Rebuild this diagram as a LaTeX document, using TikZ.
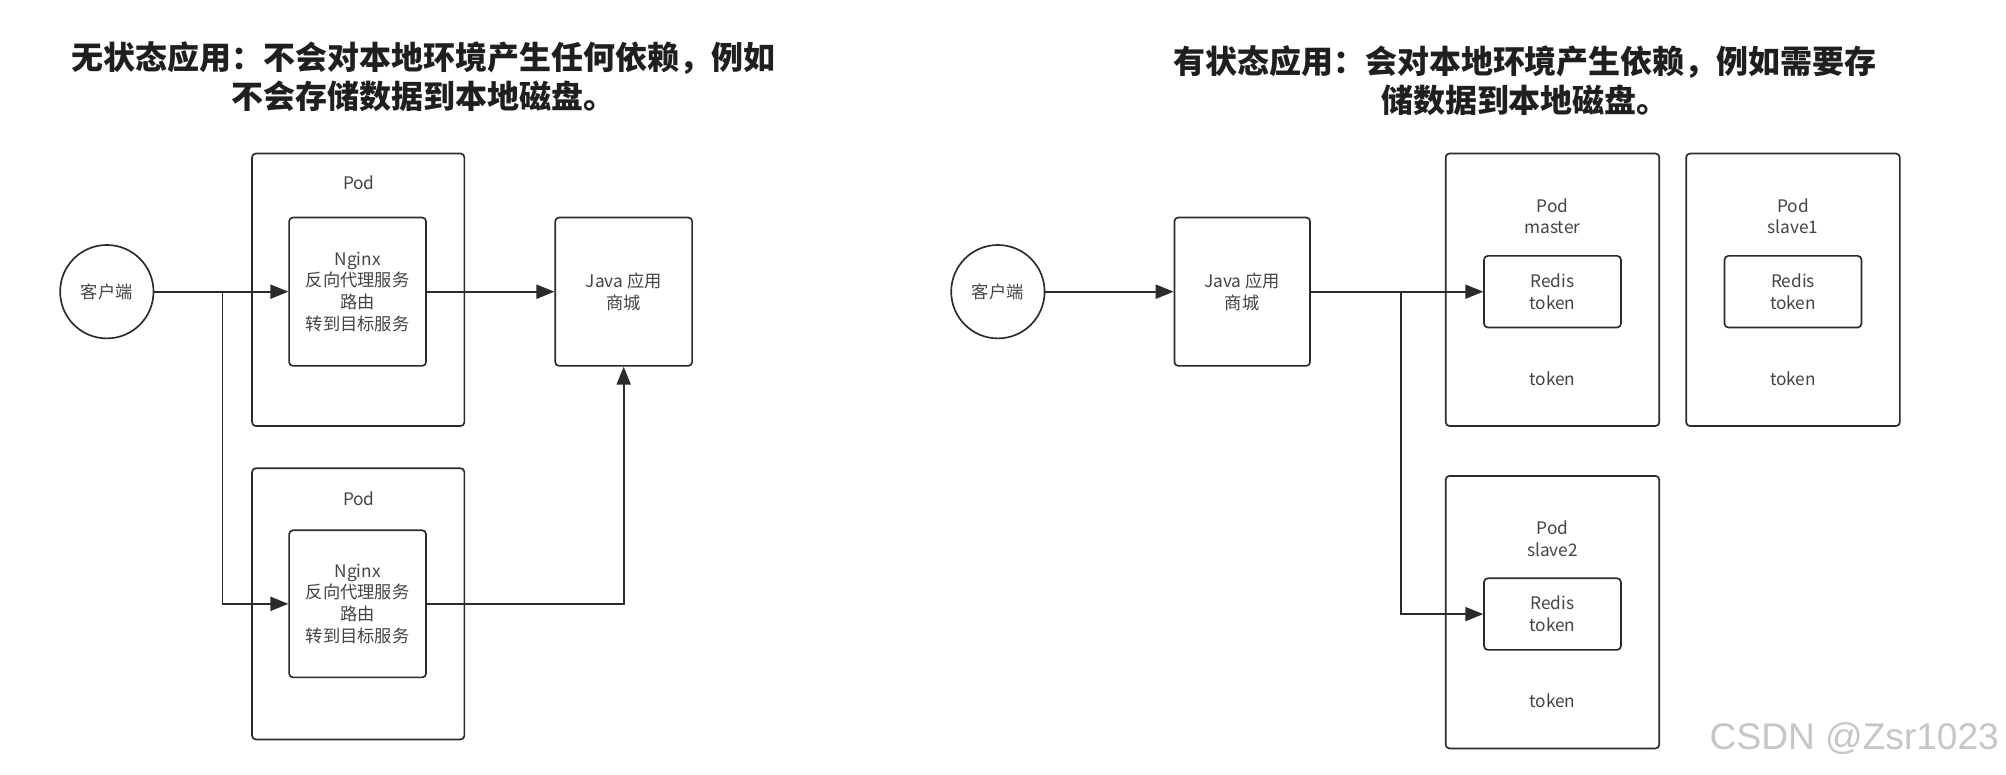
\documentclass[tikz,border=0pt]{standalone}
\usepackage{fontspec}
\setmainfont{Noto Sans CJK SC}
\newfontfamily\wmfont{Liberation Sans}
\usetikzlibrary{arrows.meta}
\definecolor{ink}{HTML}{2B2B2B}
\definecolor{txt}{HTML}{444444}
\tikzset{
  box/.style={draw=ink, line width=1.3pt, rounded corners=3pt, inner sep=0pt, fill=white},
  lbl/.style={font=\fontsize{13.5}{17}\selectfont, text=txt, align=center},
  arr/.style={draw=ink, line width=1.3pt, -{Triangle[length=14pt,width=11pt]}},
  ttl/.style={font=\fontsize{25}{30}\selectfont\bfseries, text=black!88, align=center},
  client/.style={draw=ink, line width=1.3pt, circle, minimum size=73pt, inner sep=0pt, fill=white}
}
\begin{document}
\begin{tikzpicture}[x=1pt,y=-1pt]
\useasboundingbox[fill=white] (0,0) rectangle (1568,605);

% ---------- left: stateless ----------
\node[ttl] (t1) at (331,60) {无状态应用：不会对本地环境产生任何依赖，例如\\不会存储数据到本地磁盘。};

\node[client, lbl] (c1) at (83.5,228) {客户端};

\node[box, minimum width=166pt, minimum height=213pt] (pod1) at (280,226.5) {};
\node[lbl] (pod1l) at (280.5,143) {Pod};
\node[box, lbl, minimum width=107pt, minimum height=116pt] (ng1) at (279.5,228) {Nginx\\反向代理服务\\路由\\转到目标服务};

\node[box, minimum width=166pt, minimum height=212pt] (pod2) at (280,472) {};
\node[lbl] (pod2l) at (280.5,390) {Pod};
\node[box, lbl, minimum width=107pt, minimum height=115pt] (ng2) at (279.5,472) {Nginx\\反向代理服务\\路由\\转到目标服务};

\node[box, lbl, minimum width=107pt, minimum height=116pt] (jv1) at (487.5,228) {Java 应用\\商城};

\coordinate (b1) at (174,228);
\draw[arr] (c1.east) -- (ng1.west);
\draw[arr] (b1) |- (ng2.west);
\draw[arr] (ng1.east) -- (jv1.west);
\draw[arr] (ng2.east) -| (jv1.south);

% ---------- right: stateful ----------
\node[ttl] (t2) at (1192,63) {有状态应用：会对本地环境产生依赖，例如需要存\\储数据到本地磁盘。};

\node[client, lbl] (c2) at (780,228) {客户端};
\node[box, lbl, minimum width=106pt, minimum height=116pt] (jv2) at (971,228) {Java 应用\\商城};

\node[box, minimum width=167pt, minimum height=213pt] (pm) at (1213.5,226.5) {};
\node[lbl] (pml) at (1213.5,169) {Pod\\master};
\node[box, lbl, minimum width=107pt, minimum height=56pt] (rm) at (1213.5,228) {Redis\\token};
\node[lbl] (pmt) at (1213.5,296) {token};

\node[box, minimum width=167pt, minimum height=213pt] (ps1) at (1401.5,226.5) {};
\node[lbl] (ps1l) at (1401.5,169) {Pod\\slave1};
\node[box, lbl, minimum width=107pt, minimum height=56pt] (rs1) at (1401.5,228) {Redis\\token};
\node[lbl] (ps1t) at (1401.5,296) {token};

\node[box, minimum width=167pt, minimum height=213pt] (ps2) at (1213.5,478.5) {};
\node[lbl] (ps2l) at (1213.5,421) {Pod\\slave2};
\node[box, lbl, minimum width=107pt, minimum height=56pt] (rs2) at (1213.5,480) {Redis\\token};
\node[lbl] (ps2t) at (1213.5,548) {token};

\coordinate (b2) at (1095,228);
\draw[arr] (c2.east) -- (jv2.west);
\draw[arr] (jv2.east) -- (rm.west);
\draw[arr] (b2) |- (rs2.west);

% watermark
\node[font=\wmfont\fontsize{29}{30}\selectfont, text=gray!45, anchor=east] (wm) at (1566,577) {CSDN @Zsr1023};
\end{tikzpicture}
\end{document}
